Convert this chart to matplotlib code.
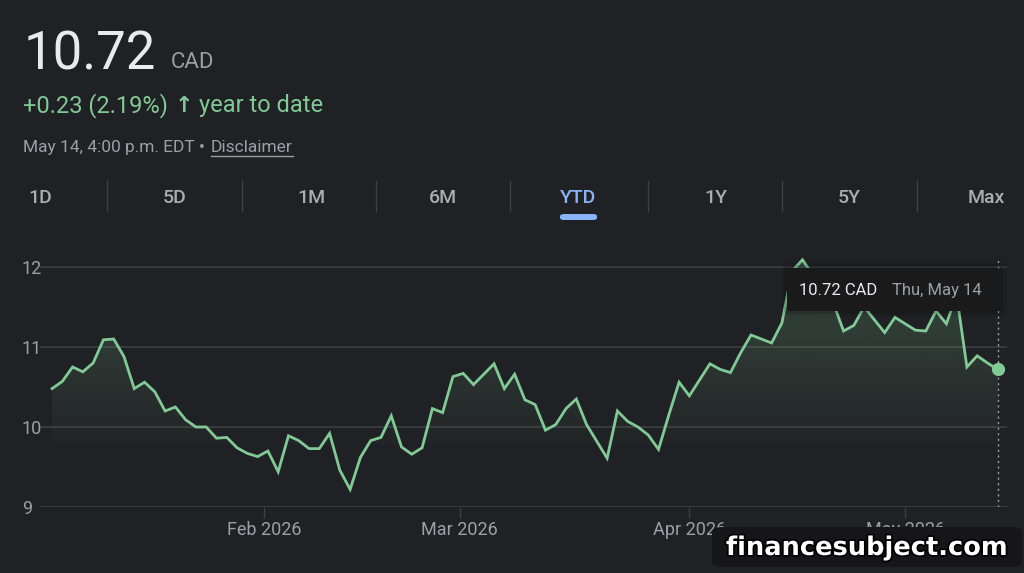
import numpy as np
import pandas as pd
import matplotlib.pyplot as plt
from matplotlib.colors import to_rgb
from matplotlib.patches import FancyBboxPatch
from matplotlib.lines import Line2D
import matplotlib.patheffects as pe

plt.rcParams['font.family'] = ['Roboto', 'DejaVu Sans']

# closing prices, one per TSX trading day (Jan 2 - May 14, 2026)
prices = [10.48, 10.57, 10.75, 10.69, 10.80, 11.09, 11.10, 10.88, 10.48, 10.56,
          10.44, 10.20, 10.25, 10.09, 10.00, 10.00, 9.86, 9.87, 9.74, 9.67,
          9.63, 9.70, 9.44, 9.89, 9.83, 9.73, 9.73, 9.92, 9.46, 9.22,
          9.62, 9.83, 9.87, 10.14, 9.75, 9.66, 9.74, 10.23, 10.18, 10.63,
          10.67, 10.53, 10.66, 10.79, 10.48, 10.66, 10.34, 10.28, 9.96, 10.03,
          10.23, 10.35, 10.03, 9.82, 9.61, 10.20, 10.07, 10.00, 9.90, 9.72,
          10.15, 10.56, 10.39, 10.59, 10.79, 10.72, 10.68, 10.93, 11.15, 11.10,
          11.05, 11.30, 11.95, 12.09, 11.90, 11.75, 11.55, 11.20, 11.27, 11.50,
          11.34, 11.18, 11.37, 11.29, 11.21, 11.20, 11.45, 11.29, 11.65, 10.75,
          10.89, 10.80, 10.72]
holidays = ['2026-02-16', '2026-04-03']
months = ['2026-02-01', '2026-03-01', '2026-04-01', '2026-05-01']
month_labels = ['Feb 2026', 'Mar 2026', 'Apr 2026', 'May 2026']
y_ticks = [9, 10, 11, 12]
tabs = ['1D', '5D', '1M', '6M', 'YTD', '1Y', '5Y', 'Max']

dates = pd.bdate_range('2026-01-02', '2026-05-14')
dates = dates[~dates.isin(pd.to_datetime(holidays))]
x = np.arange(len(prices))
ords = np.array([d.toordinal() for d in dates])
month_pos = np.interp([pd.Timestamp(m).toordinal() for m in months], ords, x)

bg = '#202124'
green = '#81c995'
grey = '#9aa0a6'
gridc = '#3c4043'

W, H = 1024, 573
fig = plt.figure(figsize=(W / 100, H / 100), dpi=100, facecolor=bg)

def fx(px):
    return px / W

def fy(py):
    return 1 - py / H

# chart area
ax = fig.add_axes([fx(40), fy(507), fx(1007) - fx(40), fy(251) - fy(507)])
ax.set_facecolor(bg)
xl = (-1.17, 92.9)
yl = (9, 12.2)

for v in y_ticks:
    ax.axhline(v, color=gridc, lw=1.2, zorder=0)

base = 9.77
top = 12.1
rgba = np.zeros((256, 1, 4))
rgba[..., :3] = to_rgb(green)
rgba[:, 0, 3] = np.linspace(0.02, 0.25, 256)
im = ax.imshow(rgba, extent=[x[0], x[-1], base, top], origin='lower',
               aspect='auto', zorder=1, interpolation='bilinear')
poly = ax.fill_between(x, np.maximum(prices, base), base, facecolor='none',
                       edgecolor='none')
im.set_clip_path(poly.get_paths()[0], transform=ax.transData)

ax.plot(x, prices, color=green, lw=2.0, zorder=3, solid_joinstyle='miter')
ax.vlines(x[-1], 9.0, 12.12, colors=grey, linestyles=(0, (1.5, 2.5)), lw=1, zorder=2)
ax.plot(x[-1], prices[-1], 'o', color=green, ms=8.5, zorder=4)

ax.set_xlim(xl)
ax.set_ylim(yl)
for s in ax.spines.values():
    s.set_visible(False)
ax.set_yticks(y_ticks)
ax.set_yticklabels([str(v) for v in y_ticks], ha='left')
ax.tick_params(axis='y', length=0, pad=13, labelsize=13, labelcolor=grey)
ax.set_xticks(month_pos)
ax.set_xticklabels(month_labels)
ax.tick_params(axis='x', length=8, width=1, color=gridc, pad=2, labelsize=13,
               labelcolor=grey)

# header
fig.text(fx(24), fy(69), '%.2f' % prices[-1], size=38, color='#e8eaed', va='baseline')
fig.text(fx(171), fy(68), 'CAD', size=16, color=grey, va='baseline')
fig.text(fx(23), fy(112), '+0.23 (2.19%)', size=17, color=green, va='baseline')
fig.text(fx(184), fy(112), '\u2191', size=16, color=green, va='baseline', ha='center',
         family='DejaVu Sans', weight='bold')
fig.text(fx(199), fy(112), 'year to date', size=17, color=green, va='baseline')
head = fig.text(fx(23), fy(152), 'May 14, 4:00 p.m. EDT \u2022', size=12.5, color=grey,
                va='baseline')
fig.canvas.draw()
hb = head.get_window_extent()
disc = fig.text(hb.x1 / W + fx(6), fy(152), 'Disclaimer', size=12.5, color=grey,
                va='baseline')
fig.canvas.draw()
bb = disc.get_window_extent()
fig.add_artist(Line2D([bb.x0 / W, bb.x1 / W], [fy(156), fy(156)], color=grey, lw=1))

# range tabs
tab_x = [40, 175, 311, 443, 578, 716, 849, 986]
for t, px in zip(tabs, tab_x):
    fig.text(fx(px), fy(198), t, size=14, weight='medium', ha='center', va='center',
             color='#8ab4f8' if t == 'YTD' else '#a9acb1')
for px in [107, 242, 376, 510, 648, 782, 917]:
    fig.add_artist(Line2D([fx(px), fx(px)], [fy(181), fy(211)], color=gridc, lw=1))
fig.patches.append(FancyBboxPatch((fx(560), fy(220)), fx(37), fy(214) - fy(220),
                                  boxstyle='round,pad=0,rounding_size=0.004',
                                  transform=fig.transFigure, facecolor='#8ab4f8',
                                  edgecolor='none'))

# tooltip
for k, a in [(6, 0.08), (3, 0.12)]:
    fig.patches.append(FancyBboxPatch((fx(787 - k), fy(311 + k)), fx(213 + 2 * k),
                                      fy(268 - k) - fy(311 + k),
                                      boxstyle='round,pad=0,rounding_size=0.006',
                                      transform=fig.transFigure, facecolor='black',
                                      alpha=a, edgecolor='none', zorder=5))
fig.patches.append(FancyBboxPatch((fx(787), fy(311)), fx(213), fy(268) - fy(311),
                                  boxstyle='round,pad=0,rounding_size=0.004',
                                  transform=fig.transFigure, facecolor='#1a1a1b',
                                  edgecolor='none', zorder=6))
fig.text(fx(799), fy(290), '%.2f CAD' % prices[-1], size=12, color='#e8eaed',
         va='center', zorder=7)
fig.text(fx(892), fy(290), dates[-1].strftime('%a, %b ') + str(dates[-1].day), size=12,
         color=grey, va='center', zorder=7)

# watermark
fig.patches.append(FancyBboxPatch((fx(712), fy(567)), fx(310), fy(527) - fy(567),
                                  boxstyle='round,pad=0,rounding_size=0.01',
                                  transform=fig.transFigure, facecolor='#161618',
                                  edgecolor='none', zorder=8))
fig.text(fx(867), fy(548), 'financesubject.com', size=18.5, weight='bold',
         family='DejaVu Sans', color='white', ha='center', va='center', zorder=9,
         path_effects=[pe.withStroke(linewidth=2.5, foreground='black')])

fig.savefig('out.png', dpi=100, facecolor=bg)
